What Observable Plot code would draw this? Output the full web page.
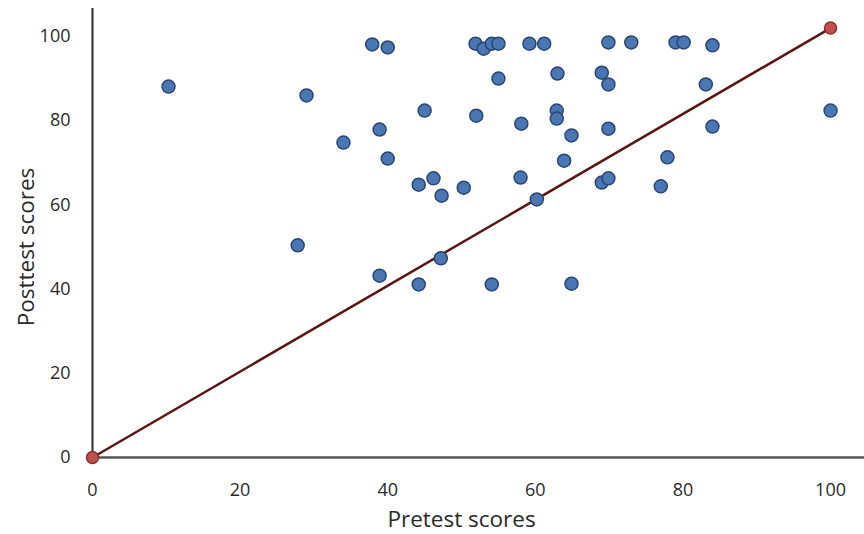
<!DOCTYPE html>
<html>
<head>
<meta charset="utf-8">
<script src="https://cdn.jsdelivr.net/npm/d3@7"></script>
<script src="https://cdn.jsdelivr.net/npm/@observablehq/plot@0.6"></script>
<style>
  html, body { margin: 0; padding: 0; background: #fff; }
  #chart svg { display: block; }
</style>
</head>
<body>
<div id="chart"></div>
<script>
const pretest = [10.3, 29.0, 27.8, 34.0, 37.9, 40.0, 38.9, 40.0, 38.9, 44.2, 45.0, 44.2, 46.2, 47.3, 47.2, 50.3,
  51.9, 53.0, 54.1, 55.0, 59.2, 61.2, 55.0, 52.0, 58.1, 58.0, 60.2, 54.1, 63.0, 62.9, 62.9, 64.9, 63.9, 64.9,
  69.0, 69.9, 69.9, 73.0, 69.9, 69.0, 69.9, 77.0, 77.9, 79.0, 80.1, 83.1, 84.0, 84.0, 100];
const posttest = [88.1, 86.0, 50.4, 74.8, 98.1, 97.4, 77.9, 71.0, 43.2, 41.1, 82.4, 64.8, 66.3, 62.2, 47.3, 64.1,
  98.3, 97.1, 98.3, 98.3, 98.3, 98.3, 90.0, 81.2, 79.3, 66.5, 61.3, 41.1, 91.2, 82.4, 80.5, 76.5, 70.5, 41.3,
  91.4, 88.6, 98.6, 98.6, 78.1, 65.3, 66.3, 64.4, 71.3, 98.6, 98.6, 88.6, 97.9, 78.6, 82.4];
const refLineX = [0, 100];
const refLineY = [0, 102];
const ticks = [0, 20, 40, 60, 80, 100];
const xTitle = "Pretest scores";
const yTitle = "Posttest scores";

const points = pretest.map((x, i) => ({x, y: posttest[i]}));
const refLine = refLineX.map((x, i) => ({x, y: refLineY[i]}));

const chart = Plot.plot({
  width: 864,
  height: 534,
  marginLeft: 92,
  marginRight: 0,
  marginTop: 8,
  marginBottom: 77,
  style: {fontFamily: "'Open Sans', sans-serif", fontSize: "18px", color: "#2a2a2a", background: "#fff"},
  x: {domain: [0, 104.6], ticks: ticks, tickSize: 0, tickPadding: 26, label: null},
  y: {domain: [0, 106.65], ticks: ticks, tickSize: 0, tickPadding: 22, label: null},
  marks: [
    Plot.ruleY([0], {stroke: "#555", strokeWidth: 2.5}),
    Plot.ruleX([0], {stroke: "#2a2a2a", strokeWidth: 2}),
    Plot.line(refLine, {x: "x", y: "y", stroke: "#5a1515", strokeWidth: 2.5}),
    Plot.dot(points, {x: "x", y: "y", r: 6.5, fill: "#4a76b4", stroke: "#2a4670", strokeWidth: 1.5}),
    Plot.dot(refLine, {x: "x", y: "y", r: 6, fill: "#c0504d", stroke: "#8a2e2e", strokeWidth: 1.5}),
    Plot.text([xTitle], {x: 50, frameAnchor: "bottom", dy: 62.5, text: d => d, fontSize: 22.5, fill: "#2a2a2a", textAnchor: "middle", lineAnchor: "middle"}),
    Plot.text([yTitle], {y: 50, frameAnchor: "left", dx: -66, rotate: -90, text: d => d, fontSize: 22.5, fill: "#2a2a2a", textAnchor: "middle", lineAnchor: "middle"})
  ]
});
document.getElementById("chart").appendChild(chart);
</script>
</body>
</html>
